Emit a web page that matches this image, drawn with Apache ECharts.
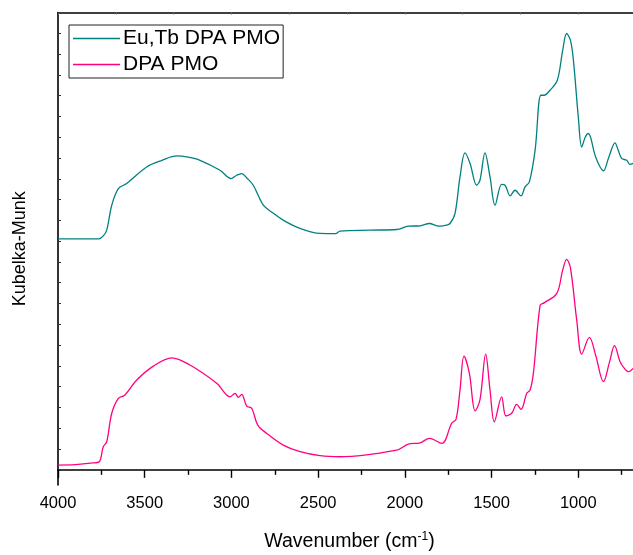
<!DOCTYPE html>
<html>
<head>
<meta charset="utf-8">
<script src="https://cdn.jsdelivr.net/npm/echarts@6/dist/echarts.min.js"></script>
<style>html,body{margin:0;padding:0;background:#fff;overflow:hidden;width:633px;height:555px}#c{width:665px;height:555px}</style>
</head>
<body>
<div id="c"></div>
<script>
var seriesNames = ['Eu,Tb DPA PMO', 'DPA PMO'];
var xTicks = [4000, 3500, 3000, 2500, 2000, 1500, 1000];

var tealWn = [4000, 3765, 3740, 3719, 3690, 3652, 3604, 3489, 3400, 3316, 3250, 3181, 3066, 3002, 2970, 2941, 2910, 2874, 2816, 2760, 2701, 2604, 2489, 2400, 2374, 2200, 2047, 1980, 1912, 1858, 1820, 1797, 1760, 1740, 1711, 1682, 1653, 1624, 1586, 1567, 1538, 1509, 1480, 1442, 1422, 1393, 1365, 1330, 1307, 1282, 1249, 1216, 1197, 1163, 1121, 1090, 1067, 1045, 1028, 1000, 980, 960, 942, 900, 855, 826, 788, 770, 750, 721, 702, 683];
var tealKM = [11.11, 11.11, 11.24, 11.53, 12.73, 13.53, 13.77, 14.57, 14.89, 15.10, 15.04, 14.89, 14.41, 14.01, 14.17, 14.25, 14.03, 13.69, 12.73, 12.35, 12.01, 11.61, 11.37, 11.36, 11.48, 11.53, 11.56, 11.72, 11.74, 11.85, 11.75, 11.72, 11.77, 11.85, 12.33, 14.09, 15.25, 14.74, 13.69, 13.93, 15.25, 14.09, 12.73, 13.73, 13.69, 13.18, 13.45, 13.18, 13.61, 13.85, 15.38, 18.02, 18.02, 18.26, 18.74, 20.18, 20.99, 20.66, 19.70, 16.98, 15.53, 16.00, 16.18, 15.05, 14.38, 14.99, 15.73, 15.38, 14.98, 14.89, 14.69, 14.74];

var pinkWn = [4000, 3900, 3800, 3762, 3739, 3719, 3690, 3652, 3614, 3546, 3450, 3344, 3239, 3085, 3008, 2979, 2960, 2941, 2912, 2883, 2848, 2796, 2701, 2604, 2489, 2374, 2047, 1980, 1912, 1858, 1787, 1730, 1705, 1682, 1659, 1628, 1595, 1567, 1534, 1509, 1484, 1442, 1417, 1384, 1355, 1330, 1297, 1278, 1259, 1220, 1197, 1124, 1090, 1067, 1045, 1009, 980, 936, 900, 855, 820, 791, 759, 735, 711, 683];
var pinkKM = [0.23, 0.25, 0.33, 0.39, 1.11, 1.35, 2.72, 3.44, 3.60, 4.32, 4.99, 5.39, 5.04, 4.16, 3.51, 3.68, 3.49, 3.63, 3.07, 2.96, 2.15, 1.75, 1.19, 0.87, 0.68, 0.63, 0.95, 1.24, 1.30, 1.51, 1.27, 2.24, 2.43, 3.84, 5.47, 4.64, 2.84, 3.36, 5.57, 3.84, 2.31, 3.51, 2.59, 2.72, 3.15, 2.91, 3.68, 3.84, 4.64, 7.92, 8.03, 8.49, 9.61, 10.12, 9.70, 7.20, 5.57, 6.37, 5.52, 4.24, 5.18, 5.97, 5.20, 4.89, 4.72, 4.88];

var yTicks = [0,1,2,3,4,5,6,7,8,9,10,11,12,13,14,15,16,17,18,19,20,21];

function pairs(xs, ys) { return xs.map(function (x, i) { return [x, ys[i]]; }); }

var font = '"Liberation Sans", Arial, sans-serif';
var chart = echarts.init(document.getElementById('c'), null, {renderer: 'canvas'});
chart.setOption({
  animation: false,
  backgroundColor: '#ffffff',
  grid: {left: 58, right: 0, top: 12.5, bottom: 70, containLabel: false, outerBoundsMode: 'none'},
  legend: {
    orient: 'vertical', left: 69, top: 25,
    data: seriesNames,
    icon: 'rect', itemWidth: 47, itemHeight: 1.4,
    itemGap: 5,
    padding: [3, 3, 3, 4],
    borderColor: '#222', borderWidth: 1,
    textStyle: {fontFamily: font, fontSize: 21, color: '#000', lineHeight: 20, padding: [0, 0, 0, -2]}
  },
  xAxis: [{
    type: 'value', inverse: true, min: 500, max: 4000, interval: 500,
    position: 'bottom',
    axisLine: {show: true, lineStyle: {color: '#000', width: 1.6}},
    axisTick: {show: true, inside: false, length: 8, lineStyle: {color: '#000', width: 1.4}},
    minorTick: {show: true, splitNumber: 2, length: 5, lineStyle: {color: '#000', width: 1.4}},
    splitLine: {show: false},
    axisLabel: {
      color: '#000', fontFamily: font, fontSize: 16.5, margin: 10,
      formatter: function (v) { return xTicks.indexOf(v) >= 0 ? String(v) : ''; }
    },
    name: '{a|Wavenumber (cm}{s|-1}{a|)}',
    nameLocation: 'middle', nameGap: 46,
    nameTextStyle: {
      padding: [0, 24, 0, 0],
      rich: {
        a: {fontFamily: font, fontSize: 19.5, color: '#000'},
        s: {fontFamily: font, fontSize: 12, color: '#000', verticalAlign: 'top', padding: [0, 0, 10, 0]}
      }
    }
  }, {
    type: 'value', min: 0, max: 10.5, interval: 1, position: 'top',
    axisLine: {show: true, lineStyle: {color: '#000', width: 1.6}},
    axisTick: {show: true, inside: true, length: 2, lineStyle: {color: '#666', width: 1}},
    axisLabel: {show: false}, splitLine: {show: false}
  }],
  yAxis: {
    type: 'value', min: -0.73, max: 22,
    axisLine: {show: true, lineStyle: {color: '#000', width: 1.6}},
    axisTick: {show: true, inside: true, length: 3, customValues: yTicks, lineStyle: {color: '#333', width: 1}},
    axisLabel: {show: false},
    splitLine: {show: false},
    name: 'Kubelka-Munk', nameLocation: 'middle', nameGap: 29, nameRotate: 90,
    nameTextStyle: {fontFamily: font, fontSize: 18, color: '#000'}
  },
  series: [{
    name: seriesNames[0], type: 'line', xAxisIndex: 0, symbol: 'none', smooth: 0.35,
    lineStyle: {color: '#008080', width: 1.3}, itemStyle: {color: '#008080'},
    data: pairs(tealWn, tealKM)
  }, {
    name: seriesNames[1], type: 'line', xAxisIndex: 0, symbol: 'none', smooth: 0.35,
    lineStyle: {color: '#ff0080', width: 1.3}, itemStyle: {color: '#ff0080'},
    data: pairs(pinkWn, pinkKM)
  }]
});
</script>
</body>
</html>
